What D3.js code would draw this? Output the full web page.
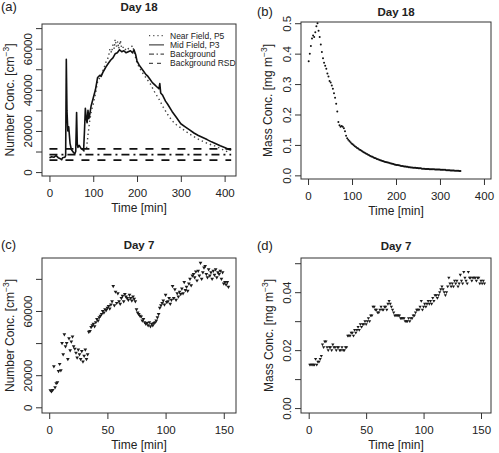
<!DOCTYPE html>
<html>
<head>
<meta charset="utf-8">
<script src="https://cdn.jsdelivr.net/npm/d3@7/dist/d3.min.js"></script>
<style>
  body { margin: 0; background: #fff; }
  text { font-family: "Liberation Sans", Arial, sans-serif; fill: #222; }
</style>
</head>
<body>
<svg id="viz" width="499" height="453"></svg>
<script>
// ---- Data ----

// (a) Day 18 number concentration, [time min, conc cm^-3]
var midField = [[0,7000],[5,7500],[10,7200],[15,8000],[20,7000],[25,6500],[28,6000],[30,7000],[35,7200],[37,8000],
  [38.5,54800],[40,30000],[42,20000],[44,22000],[47,14000],[50,11000],[55,9500],[58,9000],[60,10000],[62,29000],
  [63.5,14000],[65,12000],[68,13000],[72,11500],[76,11000],[78,10500],[80,20000],[82,31000],[84,26000],[86,24000],
  [88,30000],[90,26000],[92,28000],[95,32000],[100,36000],[105,40000],[110,46000],[115,47000],[118,46500],[122,48500],
  [126,50000],[130,51500],[135,53000],[140,54500],[145,55500],[150,57500],[155,58000],[160,59500],[165,58500],[170,59000],
  [175,58000],[180,58500],[185,59000],[190,58000],[193,59500],[197,57000],[200,54000],[205,52000],[210,50500],[215,49000],
  [220,47500],[225,46500],[230,45000],[235,43500],[240,42500],[245,41500],[250,40500],[252,43000],[254,38500],[258,37500],
  [265,34500],[270,33000],[280,29500],[290,26500],[300,23500],[310,22000],[320,20500],[330,19000],[340,17800],[350,16800],
  [360,15800],[370,14700],[380,13800],[390,12800],[400,12000],[410,11000],[415,10800]];

var nearField = [[78,10000],[85,12000],[88,18000],[92,25000],[96,30000],[100,33000],[105,38000],[110,44000],[115,46000],
  [120,48000],[125,51000],[130,54000],[135,56000],[138,60000],[142,58000],[145,62000],[148,60000],[150,64500],[153,61000],
  [156,63500],[158,60000],[162,64000],[165,60000],[170,61000],[175,59000],[180,60000],[185,60500],[190,61500],[195,57000],
  [200,53000],[210,49000],[220,46000],[230,43000],[240,39000],[250,35500],[260,31500],[270,28000],[280,25000],[290,23000],
  [300,21500],[320,18500],[340,16000],[360,14000],[380,12500],[400,10500],[410,9500]];

var bgSpan = [0, 415];
var bgLevel = 8500;
var rsdLevels = [5800, 11300];
var legendNames = ["Near Field, P5", "Mid Field, P3", "Background", "Background RSD"];

// (b) Day 18 mass concentration, one reading every 2.5 min from 1.5 min
var massB = [0.375,0.40,0.425,0.45,0.46,0.455,0.47,0.49,0.50,0.475,
  0.455,0.43,0.405,0.385,0.37,0.36,0.35,0.335,0.325,0.31,
  0.305,0.295,0.285,0.27,0.255,0.235,0.21,0.175,0.165,0.16,
  0.162,0.16,0.155,0.145,0.13,0.122,0.117,0.113,0.109,0.105,
  0.102,0.099,0.096,0.093,0.09,0.088,0.085,0.083,0.081,0.078,
  0.076,0.074,0.072,0.07,0.068,0.066,0.064,0.062,0.061,0.059,
  0.057,0.056,0.054,0.053,0.051,0.05,0.049,0.047,0.046,0.045,
  0.044,0.043,0.042,0.041,0.04,0.039,0.038,0.037,0.036,0.035,
  0.034,0.034,0.033,0.032,0.031,0.031,0.030,0.029,0.029,0.028,
  0.028,0.027,0.027,0.026,0.026,0.025,0.025,0.025,0.024,0.024,
  0.023,0.023,0.023,0.022,0.022,0.022,0.021,0.021,0.021,0.021,
  0.020,0.020,0.020,0.020,0.020,0.019,0.019,0.019,0.019,0.019,
  0.018,0.018,0.018,0.018,0.018,0.017,0.017,0.017,0.017,0.016,
  0.016,0.016,0.016,0.015,0.015,0.015,0.015,0.014,0.014];
var timeB = massB.map((d, i) => 1.5 + i * 2.5);

// (c) Day 7 number concentration, thousands cm^-3, one per minute from 1 min
var numC = [10.5,10,10.8,25.5,12.5,15,15.5,22.5,27,23,
  40,33,45.5,38,40,30,43,35.5,41,44,
  38,36.5,34,31,36,33,30,35,28.5,32,
  36,30,33,47,47.5,50,51,52,50.5,53,
  55,54,56,57,58,60,59,61,60.5,62,
  63,61.5,64,66,75.5,63.5,72,65,71,66,
  64.5,68,69.5,66,70.5,69,68,67,70,68,
  66.5,69,67.5,66,61,59,58,57,56.5,54,
  55,53,52,52.5,51,53,50.5,52,51,52.5,
  53,54,56,58,62,63.5,65,66.5,64,70,
  65.5,66,68,64.5,67,75.5,68,73.5,67,71,
  69,72,70.5,74,71,78,73,75,72.5,77,
  80,76,82,83,81,84.5,79,85,82,90,
  80,84,87,88,83,81,86,82,84,80,
  85,82.5,86,81,84,83,85,80,84,77,
  78,76.5,78,75];
var timeC = numC.map((d, i) => i + 1);

// (d) Day 7 mass concentration, mg m^-3, one per minute from 1 min
var massD = [0.015,0.015,0.015,0.015,0.015,0.017,0.015,0.016,0.016,0.017,
  0.018,0.022,0.021,0.023,0.023,0.021,0.020,0.021,0.021,0.020,
  0.022,0.021,0.021,0.020,0.021,0.021,0.020,0.020,0.021,0.020,
  0.020,0.021,0.021,0.025,0.025,0.025,0.026,0.026,0.025,0.027,
  0.026,0.027,0.028,0.027,0.029,0.028,0.029,0.029,0.030,0.029,
  0.030,0.031,0.030,0.032,0.032,0.035,0.035,0.034,0.034,0.033,
  0.033,0.034,0.035,0.034,0.034,0.035,0.035,0.034,0.036,0.037,
  0.036,0.035,0.034,0.033,0.032,0.032,0.032,0.032,0.032,0.031,
  0.031,0.031,0.031,0.030,0.030,0.030,0.031,0.030,0.031,0.031,
  0.032,0.032,0.033,0.034,0.034,0.034,0.035,0.037,0.034,0.035,
  0.036,0.035,0.036,0.037,0.036,0.037,0.036,0.038,0.037,0.039,
  0.039,0.038,0.039,0.040,0.041,0.042,0.041,0.040,0.039,0.040,
  0.042,0.045,0.043,0.042,0.043,0.042,0.044,0.043,0.044,0.042,
  0.043,0.046,0.044,0.043,0.047,0.045,0.044,0.043,0.047,0.045,
  0.045,0.044,0.045,0.045,0.045,0.044,0.045,0.045,0.043,0.044,
  0.043,0.044,0.043];
var timeD = massD.map((d, i) => i + 1);

// Axis ticks
var xTicks18 = [0, 100, 200, 300, 400];
var xTicks7 = [0, 50, 100, 150];
var yTicksA = [0, 10000, 20000, 30000, 40000, 50000, 60000, 70000];
var yLabelsA = [0, 20000, 40000, 60000];
var yTicksB = [0, 0.1, 0.2, 0.3, 0.4, 0.5];
var yTicksC = [0, 20000, 40000, 60000, 80000];
var yLabelsC = [0, 20000, 60000];
var yTicksD = [0, 0.01, 0.02, 0.03, 0.04, 0.05];
var yLabelsD = [0, 0.02, 0.04];

var svg = d3.select("#viz");

// ---- Panel frame: box, axes, labels ----

function makePanel(p) {
  var x = d3.scaleLinear().domain(p.xDom).range([p.left, p.right]);
  var y = d3.scaleLinear().domain(p.yDom).range([p.bottom, p.top]);
  var g = svg.append("g");

  var xa = g.append("g")
    .attr("transform", "translate(0," + p.bottom + ")")
    .call(d3.axisBottom(x).tickValues(p.xTicks).tickSize(6).tickFormat(d3.format("d")));
  xa.select(".domain").remove();
  xa.selectAll("line").attr("stroke", "#333");
  xa.selectAll("text").attr("y", 20.5).attr("dy", 0)
    .style("font-size", "11.5px").style("font-family", null).attr("fill", "#222");

  var ya = g.append("g")
    .attr("transform", "translate(" + p.left + ",0)")
    .call(d3.axisLeft(y).tickValues(p.yTicks).tickSize(6)
      .tickFormat(d => p.yShow.some(v => Math.abs(v - d) < 1e-9) ? p.yFmt(d) : ""));
  ya.select(".domain").remove();
  ya.selectAll("line").attr("stroke", "#333");
  ya.selectAll("text")
    .attr("transform", "rotate(-90)")
    .attr("x", 0).attr("y", -10).attr("dy", 0)
    .attr("text-anchor", "middle")
    .style("font-size", "11.5px").style("font-family", null).attr("fill", "#222");

  g.append("rect")
    .attr("x", p.left).attr("y", p.top)
    .attr("width", p.right - p.left).attr("height", p.bottom - p.top)
    .attr("fill", "none").attr("stroke", "#333").attr("stroke-width", 1);

  g.append("text").text(p.tag)
    .attr("x", p.tagX).attr("y", p.tagY).style("font-size", "13px");

  g.append("text").text(p.title)
    .attr("x", (p.left + p.right) / 2).attr("y", p.titleY)
    .attr("text-anchor", "middle").style("font-size", "11.5px").style("font-weight", "bold");

  g.append("text").text("Time [min]")
    .attr("x", (p.left + p.right) / 2).attr("y", p.bottom + 36)
    .attr("text-anchor", "middle").style("font-size", "12px");

  var yl = g.append("text")
    .attr("transform", "translate(" + p.labX + "," + (p.top + p.bottom) / 2 + ") rotate(-90)")
    .attr("text-anchor", "middle").style("font-size", "12px");
  yl.append("tspan").text(p.ylab[0]);
  yl.append("tspan").text(p.ylab[1]).attr("dy", -5).style("font-size", "8.5px");
  yl.append("tspan").text(p.ylab[2]).attr("dy", 5);

  var clipId = "clip" + p.tag.replace(/\W/g, "");
  svg.append("clipPath").attr("id", clipId).append("rect")
    .attr("x", p.left).attr("y", p.top)
    .attr("width", p.right - p.left).attr("height", p.bottom - p.top);
  var plot = g.append("g").attr("clip-path", "url(#" + clipId + ")");

  return { x: x, y: y, plot: plot, g: g };
}

// down-pointing triangle markers
function triangles(panel, xs, ys, size) {
  panel.plot.selectAll("path.pt")
    .data(ys)
    .enter().append("path")
    .attr("class", "pt")
    .attr("d", d3.symbol().type(d3.symbolTriangle).size(size))
    .attr("transform", (d, i) => "translate(" + panel.x(xs[i]) + "," + panel.y(d) + ") rotate(180)")
    .attr("fill", "#1a1a1a");
}

// ---- (a) ----
var pa = makePanel({tag: "(a)", title: "Day 18", left: 42, right: 236, top: 24, bottom: 176,
  xDom: [-17, 426], yDom: [-1900, 72000], xTicks: xTicks18, yTicks: yTicksA, yShow: yLabelsA,
  yFmt: d3.format("d"), ylab: ["Number Conc. [cm", "\u22123", "]"],
  tagX: 1, tagY: 11, titleY: 11, labX: 14});

var lineA = d3.line().x(d => pa.x(d[0])).y(d => pa.y(d[1]));

pa.plot.append("path").datum(nearField)
  .attr("d", lineA).attr("fill", "none")
  .attr("stroke", "#444").attr("stroke-width", 1.4).attr("stroke-dasharray", "1.4,3");

pa.plot.append("path").datum(midField)
  .attr("d", lineA).attr("fill", "none")
  .attr("stroke", "#111").attr("stroke-width", 1.6).attr("stroke-linejoin", "round");

pa.plot.append("path").datum(bgSpan.map(t => [t, bgLevel]))
  .attr("d", lineA).attr("fill", "none")
  .attr("stroke", "#111").attr("stroke-width", 1.8).attr("stroke-dasharray", "8,4,2,4");

rsdLevels.forEach(function(v) {
  pa.plot.append("path").datum(bgSpan.map(t => [t, v]))
    .attr("d", lineA).attr("fill", "none")
    .attr("stroke", "#111").attr("stroke-width", 1.8).attr("stroke-dasharray", "8,8");
});

// legend
var legendDash = ["1.2,3", null, "5,2.5,1.5,2.5", "4,4"];
var leg = pa.g.append("g");
legendNames.forEach(function(name, i) {
  var yy = 35.7 + i * 9.2;
  leg.append("line")
    .attr("x1", 149).attr("x2", 164).attr("y1", yy).attr("y2", yy)
    .attr("stroke", "#222").attr("stroke-width", 1)
    .attr("stroke-dasharray", legendDash[i]);
  leg.append("text").text(name)
    .attr("x", 170).attr("y", yy).attr("dy", "0.35em")
    .style("font-size", "8.5px");
});

// ---- (b) ----
var pb = makePanel({tag: "(b)", title: "Day 18", left: 301, right: 491, top: 22, bottom: 179,
  xDom: [-16, 416], yDom: [-0.012, 0.504], xTicks: xTicks18, yTicks: yTicksB, yShow: yTicksB,
  yFmt: d3.format(".1f"), ylab: ["Mass Conc. [mg m", "\u22123", "]"],
  tagX: 257, tagY: 16, titleY: 16, labX: 272});

pb.plot.selectAll("circle")
  .data(massB)
  .enter().append("circle")
  .attr("cx", (d, i) => pb.x(timeB[i]))
  .attr("cy", d => pb.y(d))
  .attr("r", 1)
  .attr("fill", "#111");

// ---- (c) ----
var pc = makePanel({tag: "(c)", title: "Day 7", left: 42, right: 236, top: 258, bottom: 413,
  xDom: [-6.2, 160.5], yDom: [-3550, 93000], xTicks: xTicks7, yTicks: yTicksC, yShow: yLabelsC,
  yFmt: d3.format("d"), ylab: ["Number Conc. [cm", "\u22123", "]"],
  tagX: 1, tagY: 249, titleY: 249, labX: 14});

triangles(pc, timeC, numC.map(v => v * 1000), 6);

// ---- (d) ----
var pd = makePanel({tag: "(d)", title: "Day 7", left: 301, right: 491, top: 258, bottom: 413,
  xDom: [-6.7, 158.7], yDom: [-0.0017, 0.0518], xTicks: xTicks7, yTicks: yTicksD, yShow: yLabelsD,
  yFmt: d3.format(".2f"), ylab: ["Mass Conc. [mg m", "\u22123", "]"],
  tagX: 257, tagY: 250, titleY: 250, labX: 273});

triangles(pd, timeD, massD, 4.5);
</script>
</body>
</html>
